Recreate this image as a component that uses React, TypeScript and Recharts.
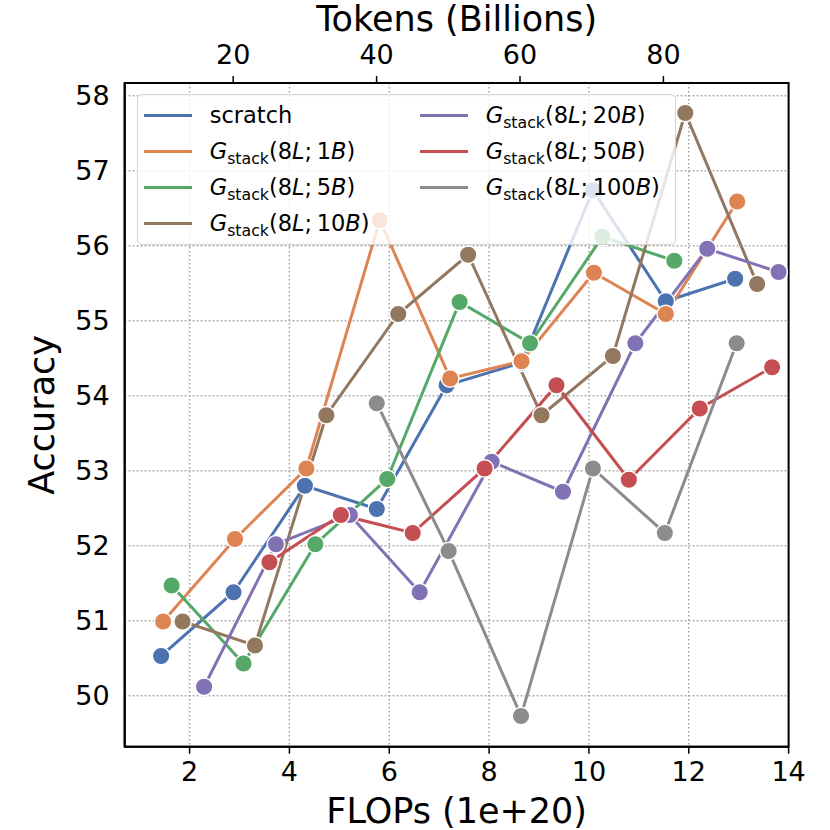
import React from 'react';
import {
  LineChart,
  Line,
  XAxis,
  YAxis,
  CartesianGrid,
  Legend,
  ReferenceArea,
} from 'recharts';

const FONT = "'DejaVu Sans', 'Liberation Sans', sans-serif";

// FLOPs (1e+20) on x, accuracy on y
const scratchFlops = [1.43, 2.88, 4.31, 5.75, 7.15, 8.65, 10.08, 11.54, 12.93];
const scratchTokens = [10, 20, 30, 40, 50, 60, 70, 80, 90];
const scratchAcc = [50.53, 51.38, 52.8, 52.49, 54.14, 54.44, 56.74, 55.26, 55.56];

const stack1BFlops = [1.47, 2.91, 4.34, 5.81, 7.22, 8.65, 10.1, 11.54, 12.97];
const stack1BAcc = [50.99, 52.09, 53.03, 56.34, 54.23, 54.46, 55.64, 55.09, 56.59];

const stack5BFlops = [1.64, 3.08, 4.52, 5.96, 7.41, 8.82, 10.27, 11.71];
const stack5BAcc = [51.47, 50.43, 52.02, 52.89, 55.25, 54.7, 56.12, 55.8];

const stack10BFlops = [1.86, 3.31, 4.74, 6.18, 7.58, 9.05, 10.48, 11.93, 13.37];
const stack10BAcc = [50.99, 50.67, 53.74, 55.09, 55.88, 53.74, 54.53, 57.77, 55.49];

const stack20BFlops = [2.29, 3.73, 5.21, 6.61, 8.05, 9.48, 10.93, 12.37, 13.8];
const stack20BAcc = [50.12, 52.02, 52.41, 51.38, 53.12, 52.72, 54.7, 55.96, 55.65];

const stack50BFlops = [3.6, 5.03, 6.47, 7.91, 9.35, 10.8, 12.22, 13.67];
const stack50BAcc = [51.78, 52.41, 52.17, 53.03, 54.14, 52.88, 53.83, 54.38];

const stack100BFlops = [5.75, 7.19, 8.64, 10.08, 11.52, 12.96];
const stack100BAcc = [53.9, 51.93, 49.73, 53.03, 52.17, 54.7];

const flopsTicks = [2, 4, 6, 8, 10, 12, 14];
const tokenTicks = [20, 40, 60, 80];
const accTicks = [50, 51, 52, 53, 54, 55, 56, 57, 58];

const zip = (xs: number[], ys: number[]) => xs.map((x, i) => ({ x, y: ys[i] }));

const series = [
  { key: 'scratch', size: '', color: '#4C72B0', data: zip(scratchFlops, scratchAcc) },
  { key: 's1', size: '1', color: '#DD8452', data: zip(stack1BFlops, stack1BAcc) },
  { key: 's5', size: '5', color: '#55A868', data: zip(stack5BFlops, stack5BAcc) },
  { key: 's10', size: '10', color: '#937860', data: zip(stack10BFlops, stack10BAcc) },
  { key: 's20', size: '20', color: '#8172B3', data: zip(stack20BFlops, stack20BAcc) },
  { key: 's50', size: '50', color: '#C44E52', data: zip(stack50BFlops, stack50BAcc) },
  { key: 's100', size: '100', color: '#8C8C8C', data: zip(stack100BFlops, stack100BAcc) },
];

// scratch run against the token axis, drawn invisibly so the top axis has data
const tokenData = zip(scratchTokens, scratchAcc);

const tickStyle = { fontSize: 27, fill: '#000', fontFamily: FONT };

const stackLabel = (size: string) => (
  <>
    <span style={{ fontStyle: 'italic' }}>G</span>
    <span style={{ fontSize: '0.7em', position: 'relative', top: '0.3em' }}>stack</span>
    (8<span style={{ fontStyle: 'italic' }}>L</span>;{'\u2009'}
    {size}
    <span style={{ fontStyle: 'italic' }}>B</span>)
  </>
);

const renderLegend = () => (
  <div
    style={{
      position: 'relative',
      width: '100%',
      height: '100%',
      boxSizing: 'border-box',
      background: 'rgba(255,255,255,0.8)',
      border: '1.5px solid #d4d4d4',
      borderRadius: 5,
      fontFamily: FONT,
      fontSize: 22.5,
      color: '#000',
    }}
  >
    {series.map((s, i) => {
      const col = i < 4 ? 0 : 1;
      const row = i % 4;
      const cy = 20.5 + row * 36;
      const hx = col === 0 ? 6 : 282;
      const tx = col === 0 ? 72 : 348;
      return (
        <React.Fragment key={s.key}>
          <div
            style={{
              position: 'absolute',
              left: hx,
              top: cy - 1.5,
              width: 48,
              height: 3,
              background: s.color,
            }}
          />
          <div
            style={{
              position: 'absolute',
              left: tx,
              top: cy,
              transform: 'translateY(-50%)',
              lineHeight: 1,
              whiteSpace: 'nowrap',
            }}
          >
            {s.size ? stackLabel(s.size) : 'scratch'}
          </div>
        </React.Fragment>
      );
    })}
  </div>
);

const bottomTitle = (props: any) => {
  const vb = props.viewBox;
  return (
    <text x={vb.x + vb.width / 2} y={vb.y + 76} textAnchor="middle" fontSize={35} fontFamily={FONT} fill="#000">
      FLOPs (1e+20)
    </text>
  );
};

const topTitle = (props: any) => {
  const vb = props.viewBox;
  return (
    <text x={vb.x + vb.width / 2} y={31} textAnchor="middle" fontSize={35} fontFamily={FONT} fill="#000">
      Tokens (Billions)
    </text>
  );
};

const leftTitle = (props: any) => {
  const vb = props.viewBox;
  const cx = 54;
  const cy = vb.y + vb.height / 2;
  return (
    <text
      x={cx}
      y={cy}
      transform={`rotate(-90, ${cx}, ${cy})`}
      textAnchor="middle"
      fontSize={35}
      fontFamily={FONT}
      fill="#000"
    >
      Accuracy
    </text>
  );
};

export default function App() {
  return (
    <div style={{ position: 'absolute', left: 0, top: 0, width: 830, height: 830, background: '#fff' }}>
      <LineChart width={830} height={830} margin={{ top: 23, right: 41.4, bottom: 3.3, left: 44.7 }}>
        <CartesianGrid stroke="#a0a0a0" strokeWidth={1.5} strokeDasharray="1.6 2.4" />
        <XAxis
          type="number"
          dataKey="x"
          domain={[0.7, 14]}
          ticks={flopsTicks}
          allowDataOverflow
          height={80}
          tickSize={7}
          tickMargin={8}
          tick={tickStyle}
          axisLine={{ stroke: '#000', strokeWidth: 2 }}
          tickLine={{ stroke: '#000', strokeWidth: 1.5 }}
          label={bottomTitle}
        />
        <XAxis
          xAxisId="top"
          orientation="top"
          type="number"
          dataKey="x"
          domain={[4.87, 97.46]}
          ticks={tokenTicks}
          allowDataOverflow
          height={60}
          tickSize={7}
          tickMargin={12}
          tick={tickStyle}
          axisLine={{ stroke: '#000', strokeWidth: 2 }}
          tickLine={{ stroke: '#000', strokeWidth: 1.5 }}
          label={topTitle}
        />
        <YAxis
          type="number"
          domain={[49.32, 58.17]}
          ticks={accTicks}
          allowDataOverflow
          width={80}
          tickSize={7}
          tickMargin={8}
          tickLine={false}
          tick={tickStyle}
          axisLine={{ stroke: '#000', strokeWidth: 2 }}
          label={leftTitle}
        />
        <ReferenceArea x1={0.7} x2={14} y1={49.32} y2={58.17} fill="none" stroke="#000" strokeWidth={2} />
        <Line
          xAxisId="top"
          data={tokenData}
          dataKey="y"
          name="tokens"
          stroke="none"
          dot={false}
          activeDot={false}
          legendType="none"
          isAnimationActive={false}
        />
        {series.map((s) => (
          <Line
            key={s.key}
            data={s.data}
            dataKey="y"
            name={s.key}
            type="linear"
            stroke={s.color}
            strokeWidth={3}
            dot={{ r: 8.8, fill: s.color, stroke: '#fff', strokeWidth: 1.5 }}
            activeDot={false}
            isAnimationActive={false}
          />
        ))}
        <Legend
          layout="vertical"
          align="center"
          verticalAlign="middle"
          wrapperStyle={{ left: 136.7, top: 93.5, width: 539, height: 151.5 }}
          content={renderLegend}
        />
      </LineChart>
    </div>
  );
}
